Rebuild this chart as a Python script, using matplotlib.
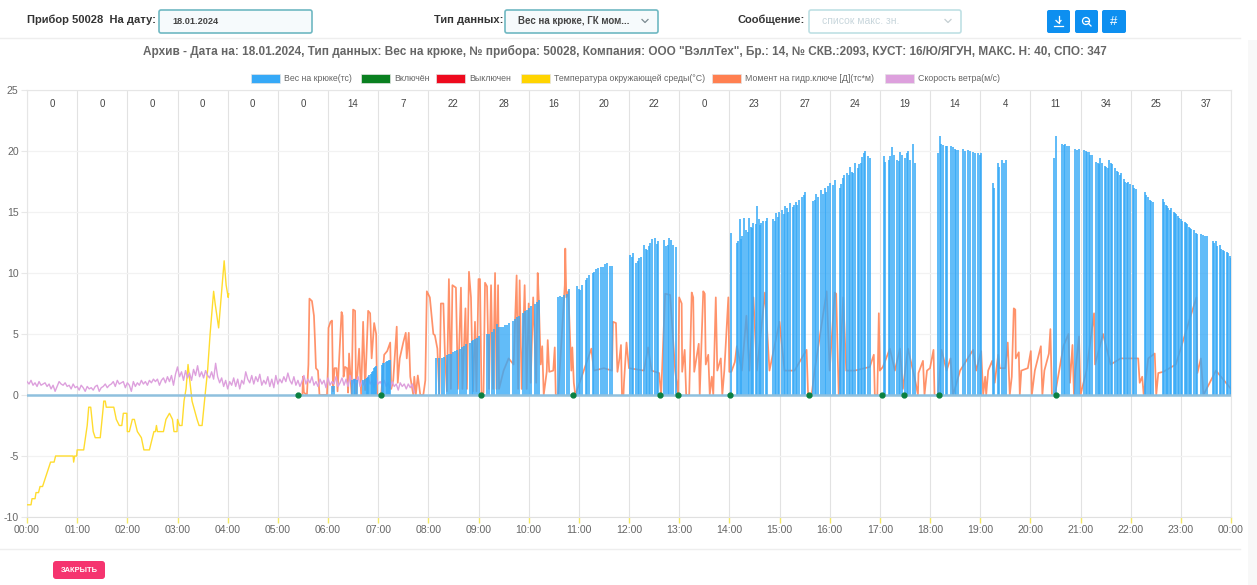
import numpy as np
import matplotlib
matplotlib.use("Agg")
import matplotlib.pyplot as plt
from matplotlib.patches import Rectangle, FancyBboxPatch, Circle

plt.rcParams["font.family"] = ["Liberation Sans", "DejaVu Sans"]
plt.rcParams["axes.unicode_minus"] = False

hour_labels = ["00:00", "01:00", "02:00", "03:00", "04:00", "05:00", "06:00", "07:00", "08:00",
               "09:00", "10:00", "11:00", "12:00", "13:00", "14:00", "15:00", "16:00", "17:00",
               "18:00", "19:00", "20:00", "21:00", "22:00", "23:00", "00:00"]
hourly_counts = [0, 0, 0, 0, 0, 0, 14, 7, 22, 28, 16, 20, 22, 0, 23, 27, 24, 19, 14, 4, 11, 34, 25, 37]
y_ticks = [-10, -5, 0, 5, 10, 15, 20, 25]

temp_hours = [0, .08, .1, .16, .18, .23, .26, .31, .35, .39, .43, .47, .54, .57, .92, .93, .95, .99, 1.0,
              1.13, 1.2, 1.23, 1.27, 1.32, 1.36, 1.46, 1.52, 1.53, 1.56, 1.58, 1.73, 1.78, 1.84, 1.89,
              1.92, 1.99, 2.0, 2.04, 2.1, 2.14, 2.2, 2.28, 2.33, 2.44, 2.53, 2.56, 2.58, 2.6, 2.64,
              2.72, 2.77, 2.84, 2.9, 2.93, 2.99, 3.0, 3.04, 3.09, 3.13, 3.17, 3.21, 3.29, 3.39, 3.43,
              3.49, 3.55, 3.6, 3.65, 3.72, 3.75, 3.82, 3.87, 3.93, 3.97, 4.01, 4.02]
temp_values = [-9, -9, -8.5, -8.5, -8, -8, -7.5, -7.5, -7, -6.5, -6, -5.5, -5.5, -5, -5, -5.5, -5, -5, -4.5,
               -4.5, -2.5, -1, -1, -3, -3.5, -3.5, -1, -.5, -.5, -1, -1, -2, -2.5, -2.5,
               -1.5, -1.5, -3, -3, -2, -2, -3, -3.5, -4.5, -4.5, -3, -3, -2.5, -3, -3,
               -3, -2, -1.5, -2, -3, -3, -2, -2.5, -2.5, -.5, .5, 2.5, -.5, -2, -2.5,
               -2.5, 0, 2, 5, 8.5, 7.5, 5.5, 8, 11, 9, 8, 8.3]

# one reading every 0.04 h
wind_values = [1.1, .9, 1.2, .8, 1.0, .7, 1.1, .8, .9, 1.0, .7, .9, .5, .8, .3, .7, 1.1, .9, .8, 1.0,
               .7, .8, .5, .9, .6, .7, .4, .8, .6, .3, .7, .5, .6, .4, .7, .8, .3, .6, .7, .9,
               .6, .8, .9, 1.1, .7, 1.2, .9, 1.0, 1.1, .6, 1.0, .8, .3, 1.1, .7, 1.0, .8, 1.2, .9, 1.1,
               .8, 1.2, 1.0, 1.3, 1.1, 1.3, .8, 1.2, 1.4, 1.0, 1.5, 1.1, 1.6, .8, 1.7, 2.3, 1.5, 1.9, 1.2, 2.0,
               1.4, 1.8, 1.2, 2.1, 1.6, 2.4, 1.5, 1.9, 1.4, 2.0, 1.6, 1.4, 1.9, 1.3, 2.6, 1.5, 1.0, 1.4, .7, 1.2,
               .5, 1.1, .8, 1.4, .7, 1.3, .5, 1.2, .9, 1.9, 1.3, 1.0, 1.6, .9, 1.5, 1.1, 1.7, .8, 1.2, .9,
               1.5, .7, 1.3, .6, 1.6, .9, 1.3, 1.0, 1.5, 1.1, 1.8, 1.2, .9, 1.5, .8, 1.2, .7, 1.1, 1.6, .9,
               1.3, 1.0, 1.5, .8, 1.1, .7, 1.3, .9, 1.2, .6, 1.4, .8, 1.1, .9, 1.5, .7, 1.0, 1.4, .8, 1.3,
               .7, 1.6, .8, 1.3, 1.0, 1.5, .7, 1.2, .8, 1.1, 1.5, .9, 1.2, .6, 1.4, .9, 1.1, .8, 1.2, .7,
               1.0, .5, 1.1, .7, .9, .4, 1.0, .7, .9, .5, .9, .6, .9, .2]

moment_hours = [5.40, 5.49, 5.50, 5.52, 5.58, 5.61, 5.63, 5.68, 5.72, 5.74, 5.76, 5.80, 5.83, 5.98, 6.00, 6.01,
                6.05, 6.08, 6.10, 6.13, 6.17, 6.19, 6.27, 6.29, 6.31, 6.34, 6.38, 6.40, 6.42, 6.47, 6.50, 6.54,
                6.56, 6.62, 6.66, 6.70, 6.74, 6.80, 6.84, 6.87, 6.92, 6.96, 6.98, 7.06, 7.12, 7.18, 7.24, 7.26,
                7.30, 7.37, 7.39, 7.43, 7.50, 7.55, 7.57, 7.61, 7.64, 7.70, 7.72, 7.75, 7.79, 7.84, 7.90, 7.94,
                7.97, 8.03, 8.10, 8.13, 8.18, 8.22, 8.25, 8.30, 8.33, 8.37, 8.41, 8.45, 8.48, 8.55, 8.59, 8.65,
                8.68, 8.74, 8.77, 8.81, 8.85, 8.89, 8.93, 8.96, 9.00, 9.03, 9.06, 9.10, 9.13, 9.17, 9.21, 9.25,
                9.29, 9.33, 9.36, 9.39, 9.41, 9.50, 9.60, 9.70, 9.76, 9.79, 9.82, 9.86, 9.92, 9.96, 10.00, 10.04,
                10.09, 10.15, 10.18, 10.20, 10.24, 10.27, 10.30, 10.36, 10.38, 10.41, 10.49, 10.52, 10.54, 10.59,
                10.72, 10.73, 10.75, 10.79, 10.85, 10.87, 10.90, 10.93, 11.25, 11.30, 11.50, 11.66, 11.68, 11.74,
                11.76, 11.77, 11.81, 11.84, 11.86, 11.89, 11.90, 11.95, 12.00, 12.30, 12.38, 12.45, 12.60, 12.64,
                12.72, 12.82, 12.92, 12.98, 13.00, 13.05, 13.06, 13.11, 13.14, 13.20, 13.25, 13.28, 13.30, 13.39,
                13.41, 13.48, 13.51, 13.53, 13.58, 13.61, 13.65, 13.68, 13.73, 13.76, 13.83, 13.86, 13.90, 13.98,
                14.00, 14.04, 14.11, 14.15, 14.25, 14.34, 14.40, 14.48, 14.55, 14.71, 14.80, 15.00, 15.10, 15.30,
                15.54, 15.57, 15.64, 15.70, 15.94, 16.00, 16.10, 16.13, 16.18, 16.27, 16.33, 16.50, 16.80, 16.88,
                16.90, 16.95, 16.98, 17.00, 17.06, 17.20, 17.30, 17.40, 17.46, 17.56, 17.70, 17.76, 17.77, 17.86,
                17.89, 17.94, 18.00, 18.07, 18.09, 18.16, 18.23, 18.33, 18.41, 18.46, 18.60, 18.86, 18.92, 19.02,
                19.06, 19.10, 19.12, 19.16, 19.24, 19.29, 19.36, 19.39, 19.46, 19.50, 19.55, 19.59, 19.63, 19.67,
                19.70, 19.71, 19.77, 19.79, 19.82, 19.95, 20.01, 20.03, 20.09, 20.21, 20.24, 20.28, 20.37, 20.40,
                20.43, 20.49, 20.57, 20.66, 20.76, 20.79, 20.84, 20.87, 20.90, 20.97, 21.00, 21.12, 21.27, 21.29,
                21.45, 21.60, 21.80, 22.15, 22.18, 22.23, 22.26, 22.35, 22.48, 22.51, 22.55, 22.65, 22.90, 23.31,
                23.33, 23.40, 23.45, 23.70, 24.00]
moment_values = [0, 0, 1.5, .2, 0, 2.5, 7.9, 7.7, 6.5, 4.5, 2.2, 2.0, 0, 0, 2.5, 5.5,
                 6.0, 6.1, .3, 2.2, 2.2, .3, 6.8, 6.5, 1.5, 2.3, 2.2, .2, 3.4, 0, 7.0, 6.9,
                 0, 3.8, 0, 6.0, .4, 6.9, 6.7, 3, 5.9, 5, 0, 0, 3.3, 3.6, 4.3, .5,
                 1.2, 5.6, 1, 3, 4.3, 5.1, 3, 5.1, 1.5, 0, 1.5, 0, 1.6, 0, 0, 1.2,
                 8.5, 8.0, 5, 4.9, 3.8, 0, 7.5, 7.5, 3.4, .3, 9.5, .5, 9, 8.8, .5, 8.8,
                 .5, 7.1, .5, 10.1, 8, .3, 6, .3, 9.5, 9.5, 0, .2, 9.2, 8.9, .5, 9,
                 .5, 10, .5, 9, .5, 2.0, 3.0, 2.5, 9.8, .5, 9.4, .5, 9, .5, 7.5, 1.0,
                 8, 1.0, 10, 8, 2.5, 4, 0, 1.9, 4.5, 1.9, 2, 3.9, 0, 0,
                 9, 12, 8, 8.5, 2, 3.9, 1, 0, 3.8, 2.0, 2.2, 2.0, 6, 5.9,
                 3, 1.9, 3, 4.1, 0, 0, 1, 4.3, 2.2, 2.0, 3.9, 2.0, 1.8, 0,
                 8.3, 8.2, 2, 0, 8, 7.5, 1.9, 3.7, 0, 0, 8.4, 8, 1.9, 4.2,
                 0, 8.5, 8.3, 2.5, 3.3, 0, 1.5, 0, 8, 2, 3.0, 0, 2, 8,
                 1.9, 1.9, 2.7, 4, 2.0, 6.5, 2.0, 8, 2.0, 8.4, 2.0, 6, 2.0, 2.0,
                 3.7, 0, 0, 2.0, 8.5, 2.0, 8.4, 8.3, 0, 8, 2.0, 2.0, 2.3, 3.3,
                 0, 0, 6.7, 2, 2.3, 3.8, 2.0, 3.8, .5, 3.8, 1.3, 0, 1.8, 2.8,
                 0, 2, 2.2, 3.7, 0, 0, 3.7, 2, 3, 0, 2.0, 3.7, 2.0, 3.6,
                 0, 1.5, 0, 2, 2.8, 1, 3.3, 2.2, 2.2, 2.2, 4.3, 0, 1.5, 7.1,
                 7, 3, 3.5, 0, 2, 2.2, 3.6, 0, 2, 4, 0, 2, 3.4, 5.4,
                 0, 0, 1.9, 4, 5, 1, 4.1, 0, 2, 4.8, 0, 2, 6.7, 2.5,
                 5, 2.5, 3, 3, 1, 1.5, 0, 3, 3.4, 0, 1.8, 1.9, 2.5, 8,
                 1.8, 3, 0, 2.0, .5]

hook_starts = [6.08, 6.48, 6.70, 6.78, 7.08, 8.15, 8.27, 9.17, 9.45, 10.58, 10.96, 12.02, 12.70, 14.03,
               14.15, 14.87, 15.67, 16.20, 17.08, 18.16, 18.42, 18.66, 19.25, 20.47, 20.63, 20.89,
               21.07, 21.31, 22.28, 22.64, 23.40, 23.64]
hook_ends = [6.12, 6.58, 6.78, 6.96, 7.24, 8.21, 9.01, 9.41, 10.20, 10.80, 11.66, 12.58, 12.94, 14.05,
             14.75, 15.51, 16.10, 16.80, 17.70, 18.34, 18.56, 19.02, 19.51, 20.55, 20.77, 20.97,
             21.23, 22.10, 22.44, 23.32, 23.52, 24.00]
hook_peaks = [
    [.7, .7],
    [1.2, 1.3, 1.3, 1.2],
    [1.2, 1.3, 1.4],
    [1.4, 1.5, 1.6, 1.7, 1.9, 2.0, 2.2, 2.3, 2.4],
    [2.5, 2.6, 2.6, 2.7, 2.8, 2.8, 2.9, 2.9],
    [3.0, 3.0],
    [3.0, 3.1, 0, 3.3, 3.4, 3.4, 3.5, 3.6, 3.7, 0, 3.8, 3.9, 4.0, 4.2, 0, 4.3, 4.4, 4.5, 4.6, 4.7, 4.8],
    [5.0, 5.0, 5.2, 5.4, 5.8, 5.6],
    [5.6, 5.6, 5.7, 5.7, 5.9, 0, 6.1, 6.2, 6.4, 6.5, 0, 6.7, 6.9, 7.0, 7.1, 7.3, 0, 7.5, 7.6, 7.8],
    [8.0, 8.1, 8.0, 8.2, 8.3, 8.7],
    [8.9, 8.7, 8.6, 9.0, 0, 9.4, 9.6, 9.8, 0, 10.0, 10.1, 10.3, 10.4, 0, 10.5, 10.5, 10.7, 10.8, 0, 10.6, 10.6],
    [11.5, 11.3, 11.6, 0, 10.8, 11.0, 11.2, 11.3, 0, 12.3, 12.0, 11.9, 12.2, 12.5, 12.8, 0, 12.9, 12.4, 12.6],
    [12.7, 12.2, 12.3, 12.9, 12.7, 12.3, 0, 12.1],
    [13.3],
    [12.5, 12.6, 14.4, 12.8, 13.0, 14.5, 0, 13.5, 13.4, 14.5, 13.8, 13.7, 14.1, 0, 14.0, 15.5, 14.4, 13.9, 14.1, 14.3, 0, 14.3, 14.5],
    [14.4, 14.3, 14.9, 14.6, 15.0, 0, 15.2, 14.8, 15.5, 15.3, 15.0, 15.7, 0, 15.4, 15.6, 15.8, 15.6, 16.0, 0, 16.2, 16.4, 16.6],
    [15.9, 16.0, 16.5, 16.2, 0, 16.8, 16.5, 17.0, 16.6, 17.1, 17.4, 0, 17.2, 17.6],
    [17.0, 17.3, 17.8, 18.0, 0, 18.2, 18.0, 18.7, 18.3, 18.2, 19.0, 0, 18.6, 18.9, 19.0, 19.5, 19.8, 20.0, 0, 19.6, 19.4],
    [19.6, 19.1, 0, 19.3, 19.6, 20.3, 19.7, 0, 19.3, 19.2, 19.9, 19.7, 0, 19.4, 19.8, 20.0, 19.3, 0, 20.6, 19.0],
    [19.8, 21.2, 20.6, 20.5, 0, 20.4, 20.4],
    [20.4, 20.3, 20.2, 20.1, 20.1],
    [20.2, 20.0, 0, 20.1, 20.0, 0, 19.9, 19.8, 0, 19.8, 19.7, 19.8],
    [17.4, 17.0, 0, 19.0, 18.7, 0, 19.3, 19.0, 19.3],
    [19.4, 21.2, 0],
    [20.6, 20.5, 20.6, 20.4, 20.4],
    [20.2, 20.1, 20.2],
    [20.1, 20.0, 19.9, 19.9, 19.7, 19.7],
    [19.1, 19.0, 18.9, 19.4, 19.0, 0, 18.8, 18.7, 18.6, 19.3, 19.0, 18.9, 0, 18.6, 18.4, 18.3, 18.0, 18.2, 0, 17.7,
     17.5, 17.4, 17.5, 17.3, 0, 17.2, 17.0, 16.9],
    [16.6, 16.4, 16.2, 16.0, 15.9, 15.8],
    [16.1, 15.8, 15.6, 15.5, 15.3, 15.2, 15.3, 0, 15.0, 14.9, 14.8, 14.7, 14.5, 14.4, 14.3, 0, 14.2, 14.1, 14.0, 13.8,
     13.7, 13.6, 0, 13.5, 13.3, 13.2],
    [13.2, 13.1, 13.0, 13.0],
    [12.6, 12.5, 12.6, 12.2, 0, 12.3, 12.0, 11.9, 11.8, 0, 11.7, 11.6, 11.4, 11.2]
]
marker_hours = [5.40, 7.06, 9.05, 10.88, 12.62, 12.98, 14.01, 15.59, 17.04, 17.48, 18.18, 20.51]
marker_values = [0] * len(marker_hours)

legend_names = ["Вес на крюке(тс)", "Включён", "Выключен", "Температура окружающей среды(°C)",
                "Момент на гидр.ключе [Д](тс*м)", "Скорость ветра(м/с)"]
legend_colors = ["#36a9f7", "#0a8020", "#ee0a1e", "#ffd400", "#ff7f50", "#dda0dd"]
legend_x = [251, 361, 436, 521, 712, 885]

W, H = 1257, 585
fig = plt.figure(figsize=(W / 100, H / 100), dpi=100, facecolor="white")
ax = fig.add_axes([27 / W, 1 - 517 / H, 1204 / W, 427 / H])

ax.set_xlim(0, 24)
ax.set_ylim(-10, 25)
ax.set_xticks(range(25))
ax.set_xticklabels(hour_labels)
ax.set_yticks(y_ticks)
ax.tick_params(axis="x", length=4, width=1, color="#f5ea6a", labelsize=7.6, labelcolor="#666666", pad=1.5)
ax.tick_params(axis="y", length=4, width=0.8, color="#e8e8e8", labelsize=7.6, labelcolor="#666666", pad=2)
ax.grid(axis="y", color="#f2f2f2", lw=0.9)
ax.grid(axis="x", color="#e2e2e2", lw=0.8)
ax.set_axisbelow(True)
for side in ["top", "left", "right"]:
    ax.spines[side].set_color("#e6e6e6")
    ax.spines[side].set_linewidth(0.8)
ax.spines["bottom"].set_color("#e0e0e0")
ax.spines["bottom"].set_linewidth(0.8)

for h, count in enumerate(hourly_counts):
    ax.text(h + 0.5, 23.85, str(count), ha="center", va="center", fontsize=7, color="#444444")

ax.plot(temp_hours, temp_values, color="#ffdc2e", lw=1.0, zorder=3)
wind_hours = np.arange(len(wind_values)) * 0.04
ax.plot(moment_hours, moment_values, color="#ff7f50", lw=1.25, alpha=0.85, zorder=3)
ax.plot(wind_hours, wind_values, color="#dda0dd", lw=1.0, zorder=4)

for start, end, peaks in zip(hook_starts, hook_ends, hook_peaks):
    ax.vlines(np.linspace(start, end, len(peaks)), 0, peaks, color="#36a9f7", lw=1.4, alpha=0.8, zorder=5)
ax.plot([0, 24], [0, 0], color="#8fc0de", lw=1.8, zorder=6)
ax.plot(marker_hours, marker_values, "o", color="#0a8040", ms=3.5, zorder=7, clip_on=False)

# page elements around the chart, in screen pixels
ov = fig.add_axes([0, 0, 1, 1], zorder=10)
ov.set_xlim(0, W)
ov.set_ylim(H, 0)
ov.axis("off")


def box(x0, y0, x1, y1, face, edge="none", lw=1.0, r=2):
    ov.add_patch(FancyBboxPatch((x0, y0), x1 - x0, y1 - y0, boxstyle=f"round,pad=0,rounding_size={r}",
                                fc=face, ec=edge, lw=lw))


def chevron(x, y, color):
    ov.plot([x - 3, x, x + 3], [y - 1.5, y + 1.5, y - 1.5], color=color, lw=0.9)


ov.plot([0, 1240], [38, 38], color="#eeeeee", lw=1)
ov.plot([0, 1240], [549, 549], color="#eeeeee", lw=1)
ov.add_patch(Rectangle((1248, 40), 9, 545, fc="#f8f8f8", ec="none"))

ov.text(27, 20, "Прибор 50028  На дату:", fontsize=8, weight="bold", color="#333333", va="center")
box(159, 10, 312, 33, "#f6fafc", "#6fb8c2", 1.2)
ov.text(172, 21, "18.01.2024", fontsize=6.6, weight="bold", color="#444444", va="center")

ov.text(434, 20, "Тип данных:", fontsize=8, weight="bold", color="#333333", va="center")
box(505, 10, 658, 33, "#f6fafc", "#6fb8c2", 1.2)
ov.text(518, 21, "Вес на крюке, ГК мом...", fontsize=7, weight="bold", color="#444444", va="center")
chevron(645, 21, "#7a8a90")

ov.text(738, 20, "Сообщение:", fontsize=8, weight="bold", color="#333333", va="center")
box(809, 10, 961, 33, "#ffffff", "#bfe0e4", 1.2)
ov.text(822, 21, "список макс. зн.", fontsize=7.5, color="#c8d6dc", va="center")
chevron(948, 21, "#c4ced2")

for x0, x1 in [(1047, 1070), (1075, 1098), (1102, 1126)]:
    box(x0, 10, x1, 33, "#0d8ff0")
ov.plot([1058.5, 1058.5], [16, 23], color="white", lw=0.9)
ov.plot([1056, 1058.5, 1061], [20.5, 23, 20.5], color="white", lw=0.9)
ov.plot([1054, 1063], [26, 26], color="white", lw=0.9)
ov.add_patch(Circle((1086, 21), 3.5, fc="none", ec="white", lw=0.9))
ov.plot([1088.5, 1091], [23.5, 26], color="white", lw=0.9)
ov.plot([1084.5, 1087.5], [21, 21], color="white", lw=0.9)
ov.text(1114, 22, "#", fontsize=9.5, color="white", ha="center", va="center")

ov.text(624.5, 51, "Архив - Дата на: 18.01.2024, Тип данных: Вес на крюке, № прибора: 50028, Компания: ООО \"ВэллТех\", "
        "Бр.: 14, № СКВ.:2093, КУСТ: 16/Ю/ЯГУН, МАКС. Н: 40, СПО: 347",
        fontsize=8.46, weight="bold", color="#666666", ha="center", va="center")

for x, name, color in zip(legend_x, legend_names, legend_colors):
    ov.add_patch(Rectangle((x, 74), 29, 9, fc=color, ec="#e4e4e4", lw=0.5))
    ov.text(x + 33, 78.5, name, fontsize=6.3, color="#666666", va="center")

box(53, 561, 105, 579, "#f5346f", r=3)
ov.text(79, 570, "ЗАКРЫТЬ", fontsize=5.4, weight="bold", color="white", ha="center", va="center")

fig.savefig("out.png", dpi=100)
